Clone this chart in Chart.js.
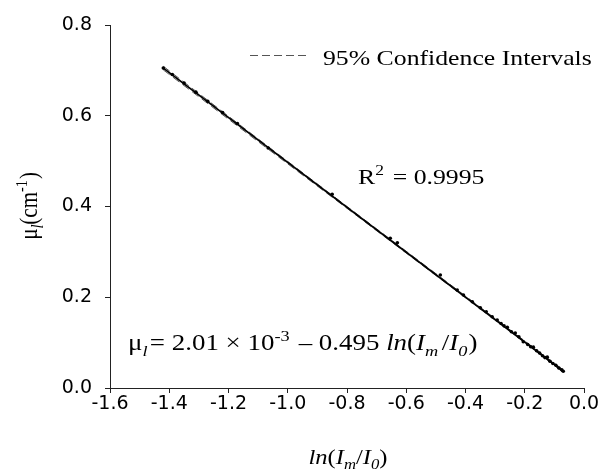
<!DOCTYPE html>
<html>
<head>
<meta charset="utf-8">
<script src="https://cdn.jsdelivr.net/npm/chart.js@4.4.1/dist/chart.umd.min.js"></script>
<style>
  html, body { margin: 0; padding: 0; background: #fff; }
  #wrap { width: 605px; height: 470px; }
</style>
</head>
<body>
<div id="wrap"><canvas id="attenChart" width="605" height="470"></canvas></div>
<script>
// measured points ln(Im/I0) vs mu_l
const lnRatio = [-1.42, -1.39, -1.35, -1.31, -1.27, -1.22, -1.17, -1.066, -0.85, -0.654, -0.63,
  -0.485, -0.428, -0.407, -0.377, -0.35, -0.33, -0.31, -0.293, -0.28, -0.27, -0.259, -0.245,
  -0.232, -0.22, -0.205, -0.19, -0.18, -0.171, -0.16, -0.15, -0.14, -0.132, -0.124, -0.115,
  -0.105, -0.095, -0.085, -0.075, -0.07];
const muL = [0.705, 0.691, 0.672, 0.652, 0.632, 0.607, 0.583, 0.529, 0.427, 0.330, 0.320,
  0.249, 0.216, 0.205, 0.190, 0.177, 0.168, 0.157, 0.150, 0.142, 0.137, 0.134, 0.124,
  0.121, 0.113, 0.102, 0.096, 0.091, 0.090, 0.082, 0.077, 0.071, 0.067, 0.068, 0.059,
  0.054, 0.050, 0.044, 0.040, 0.037];

// regression line end points
const fitX = [-1.42, -0.07];
const fitY = [0.705, 0.037];

// 95% confidence band
const ciX = [-1.42, -1.1, -0.8, -0.5, -0.3, -0.15, -0.07];
const ciUpper = [0.709, 0.549, 0.400, 0.252, 0.153, 0.079, 0.040];
const ciLower = [0.701, 0.543, 0.396, 0.248, 0.150, 0.075, 0.034];

const xTicks = [-1.6, -1.4, -1.2, -1.0, -0.8, -0.6, -0.4, -0.2, 0.0];
const yTicks = [0.0, 0.2, 0.4, 0.6, 0.8];

const SX = 1.17; // the original figure is stretched sideways
const SERIF = "'Liberation Serif', 'Times New Roman', serif";

function pairs(xs, ys) {
  return xs.map((x, i) => ({ x: x, y: ys[i] }));
}

// draws text pieces: {t, it, sub, sup}
function richText(ctx, x, y, parts, size, opts) {
  opts = opts || {};
  ctx.save();
  ctx.translate(x, y);
  if (opts.rotate) ctx.rotate(opts.rotate);
  ctx.scale(opts.rotate ? 1 : SX, opts.rotate ? SX : 1);
  ctx.fillStyle = "#000";
  ctx.textBaseline = "alphabetic";
  let w = 0;
  const items = parts.map((p) => {
    const fs = p.sub || p.sup ? size * 0.68 : size;
    const font = (p.it ? "italic " : "") + fs + "px " + SERIF;
    ctx.font = font;
    const iw = ctx.measureText(p.t).width + (p.gap || 0);
    w += iw;
    return { p: p, font: font, w: iw };
  });
  let cx = opts.center ? -w / 2 : 0;
  items.forEach((it) => {
    ctx.font = it.font;
    let dy = 0;
    if (it.p.sub) dy = size * 0.24;
    if (it.p.sup) dy = -size * 0.4;
    ctx.fillText(it.p.t, cx, dy);
    cx += it.w;
  });
  ctx.restore();
}

const annotations = {
  id: "annotations",
  afterDraw(chart) {
    const ctx = chart.ctx;
    // legend sample
    ctx.save();
    ctx.strokeStyle = "#555";
    ctx.lineWidth = 1;
    ctx.setLineDash([8, 4]);
    ctx.beginPath();
    ctx.moveTo(250, 55.5);
    ctx.lineTo(310, 55.5);
    ctx.stroke();
    ctx.restore();
    richText(ctx, 323, 65, [{ t: "95% Confidence Intervals" }], 22);

    richText(ctx, 358, 184, [{ t: "R" }, { t: "2", sup: true, gap: 2 }, { t: " = 0.9995" }], 22);

    richText(ctx, 128, 350, [
      { t: "\u03bc" }, { t: "l", sub: true, it: true, gap: 2 }, { t: "= 2.01 \u00d7 10" },
      { t: "-3", sup: true, gap: 2 }, { t: " \u2013 0.495 " }, { t: "ln", it: true }, { t: "(" },
      { t: "I", it: true }, { t: "m", it: true, sub: true, gap: 3 }, { t: "/" },
      { t: "I", it: true }, { t: "0", it: true, sub: true, gap: 1 }, { t: ")" }
    ], 23);

    // axis titles
    richText(ctx, 348, 464, [
      { t: "ln", it: true }, { t: "(" }, { t: "I", it: true }, { t: "m", it: true, sub: true },
      { t: "/" }, { t: "I", it: true }, { t: "0", it: true, sub: true }, { t: ")" }
    ], 21, { center: true });

    richText(ctx, 37, 206, [
      { t: "\u03bc" }, { t: "l", sub: true, it: true }, { t: "(cm" }, { t: "-1", sup: true, gap: 1 }, { t: ")" }
    ], 21, { center: true, rotate: -Math.PI / 2 });
  }
};

new Chart(document.getElementById("attenChart"), {
  type: "scatter",
  data: {
    datasets: [
      {
        label: "data",
        data: pairs(lnRatio, muL),
        pointRadius: 1.8,
        pointBackgroundColor: "#000",
        pointBorderWidth: 0,
        showLine: false,
        order: 1
      },
      {
        label: "fit",
        data: pairs(fitX, fitY),
        showLine: true,
        borderColor: "#000",
        borderWidth: 1.8,
        pointRadius: 0,
        order: 2
      },
      {
        label: "upper",
        data: pairs(ciX, ciUpper),
        showLine: true,
        borderColor: "#555",
        borderWidth: 1,
        borderDash: [8, 4],
        pointRadius: 0,
        order: 3
      },
      {
        label: "lower",
        data: pairs(ciX, ciLower),
        showLine: true,
        borderColor: "#555",
        borderWidth: 1,
        borderDash: [8, 4],
        pointRadius: 0,
        order: 3
      }
    ]
  },
  options: {
    responsive: false,
    animation: false,
    layout: { padding: { top: 25, right: 21, left: 0, bottom: 0 } },
    plugins: {
      legend: { display: false },
      tooltip: { enabled: false }
    },
    scales: {
      x: {
        type: "linear",
        min: -1.6,
        max: 0,
        afterBuildTicks: (scale) => { scale.ticks = xTicks.map((v) => ({ value: v })); },
        afterFit: (scale) => { scale.height = 82; },
        ticks: {
          autoSkip: false,
          maxRotation: 0,
          padding: 0,
          color: "#000",
          font: { family: "DejaVu Sans", size: 19 },
          callback: (v) => v.toFixed(1)
        },
        grid: { drawOnChartArea: false, drawTicks: true, tickLength: 5, color: "#222" },
        border: { display: true, color: "#222", width: 1 }
      },
      y: {
        type: "linear",
        min: 0,
        max: 0.8,
        afterBuildTicks: (scale) => { scale.ticks = yTicks.map((v) => ({ value: v })); },
        afterFit: (scale) => { scale.width = 110; },
        ticks: {
          autoSkip: false,
          padding: 13,
          color: "#000",
          font: { family: "DejaVu Sans", size: 19 },
          callback: (v) => v.toFixed(1)
        },
        grid: { drawOnChartArea: false, drawTicks: true, tickLength: 5, color: "#222" },
        border: { display: true, color: "#222", width: 1 }
      }
    }
  },
  plugins: [annotations]
});
</script>
</body>
</html>
